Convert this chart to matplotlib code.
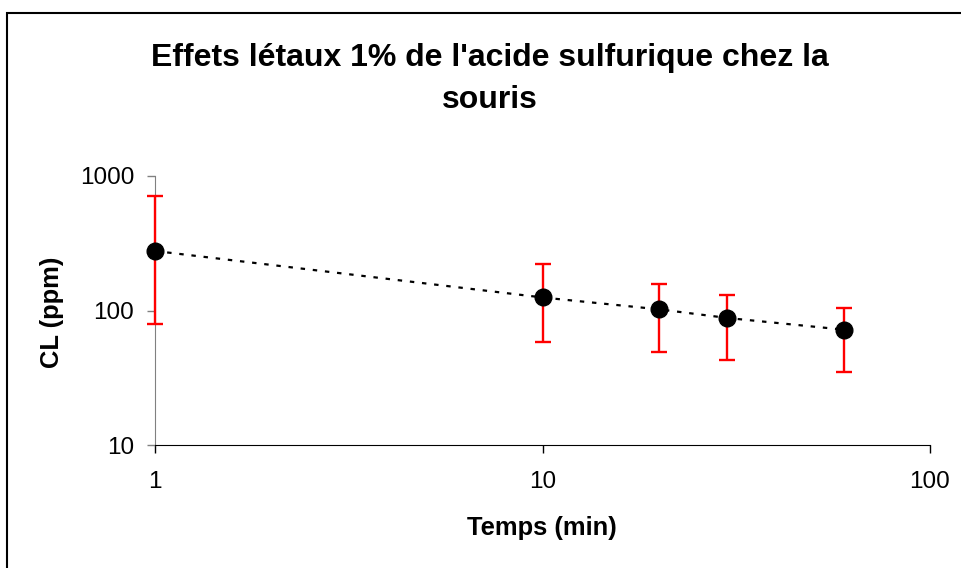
import matplotlib
matplotlib.use('Agg')
import matplotlib.pyplot as plt
import matplotlib.ticker
from matplotlib.patches import Rectangle
import numpy as np

plt.rcParams.update({"font.family": "sans-serif", "font.sans-serif": ["Liberation Sans", "DejaVu Sans"]})

# data
temps = np.array([1, 10, 20, 30, 60])
cl = np.array([277, 125, 102, 88, 72])
cl_high = np.array([710, 220, 157, 131, 104])
cl_low = np.array([79, 58, 49, 43, 35])
xticks = [1, 10, 100]
yticks = [10, 100, 1000]

fig = plt.figure(figsize=(9.62, 5.68), dpi=100)
ax = fig.add_axes([155/962, 1-445/568, 775/962, 269/568])

ax.set_xscale('log')
ax.set_yscale('log')

# dotted connecting line
ax.plot(temps, cl, color='black', lw=1.6, dashes=(2, 3.5), zorder=2)
eb = ax.errorbar(temps, cl, yerr=[cl - cl_low, cl_high - cl], fmt='none',
                 ecolor='#ff0000', elinewidth=1.7, capsize=5.5, capthick=1.7, zorder=3)
for art in eb.get_children():
    art.set_clip_on(False)
ax.plot(temps, cl, 'o', color='black', ms=12, zorder=4, clip_on=False)

ax.set_xlim(1, 100)
ax.set_ylim(10, 1000)
ax.set_xticks(xticks)
ax.set_yticks(yticks)
ax.xaxis.set_major_formatter(matplotlib.ticker.FuncFormatter(lambda v, p: '%d' % v))
ax.yaxis.set_major_formatter(matplotlib.ticker.FuncFormatter(lambda v, p: '%d' % v))
ax.xaxis.set_minor_locator(matplotlib.ticker.NullLocator())
ax.yaxis.set_minor_locator(matplotlib.ticker.NullLocator())

ax.tick_params(axis='x', direction='out', length=6, width=1, labelsize=17.5, pad=13, colors='black')
ax.tick_params(axis='y', direction='out', length=6, width=1, labelsize=17.5, pad=9, color='#808080', labelcolor='black')

ax.spines['right'].set_visible(False)
ax.spines['top'].set_visible(False)
ax.spines['left'].set_color('#808080')
ax.spines['bottom'].set_color('black')

fig.text(490/962, 1-79/568, "Effets létaux 1% de l'acide sulfurique chez la\nsouris",
         ha='center', va='center', fontsize=23, fontweight='bold', linespacing=1.55)
fig.text(542/962, 1-528/568, 'Temps (min)', ha='center', va='center', fontsize=18.4, fontweight='bold')
fig.text(52/962, 1-312/568, 'CL (ppm)', ha='center', va='center', rotation=90, fontsize=18.4, fontweight='bold')

# chart frame
fig.add_artist(Rectangle((7/962, -0.2), 1.2, 1-13/568+0.2, transform=fig.transFigure,
                         fill=False, edgecolor='black', lw=1.5, clip_on=False))

fig.savefig('out.png', dpi=100)
